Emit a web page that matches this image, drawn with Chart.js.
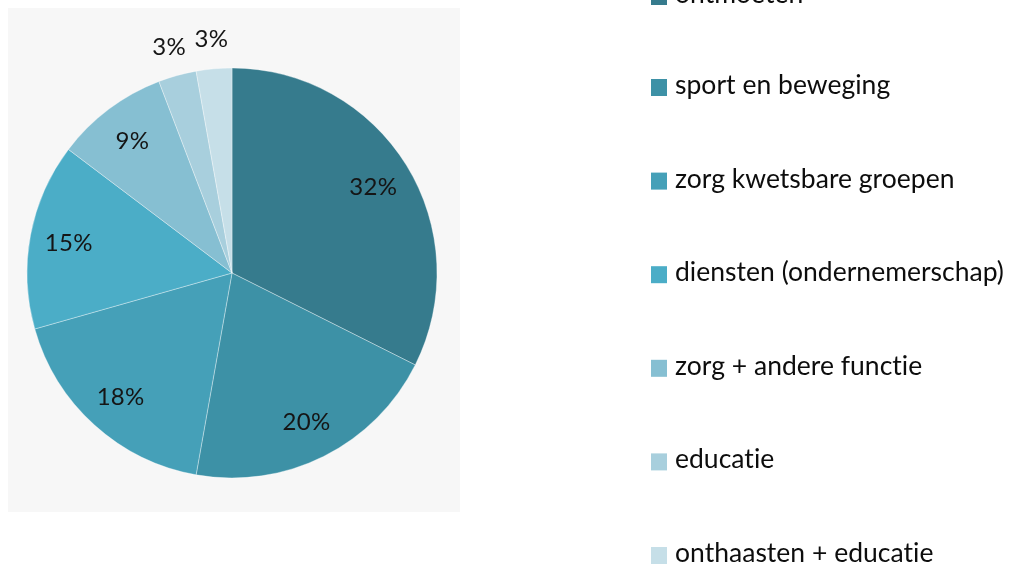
<!DOCTYPE html>
<html>
<head>
<meta charset="utf-8">
<script src="https://cdn.jsdelivr.net/npm/chart.js@4.4.1/dist/chart.umd.min.js"></script>
<style>
  html, body { margin: 0; padding: 0; background: #ffffff; }
  #wrap { position: relative; width: 1018px; height: 566px; overflow: hidden; }
  canvas { display: block; }
</style>
</head>
<body>
<div id="wrap"><canvas id="c" width="1018" height="566"></canvas></div>
<script>
// ---- data ----
const categories = [
  'ontmoeten',
  'sport en beweging',
  'zorg kwetsbare groepen',
  'diensten (ondernemerschap)',
  'zorg + andere functie',
  'educatie',
  'onthaasten + educatie'
];
const shares = [32.4, 20.4, 17.8, 14.7, 8.9, 3.0, 2.8];
const sliceColors = ['#367b8d', '#3d91a6', '#45a0b8', '#4badc7', '#86bfd2', '#a8cfdd', '#c6dfe8'];

// ---- plugins ----
const panelBg = {
  id: 'panelBg',
  beforeDraw(chart) {
    const ctx = chart.ctx;
    ctx.save();
    ctx.fillStyle = '#f7f7f7';
    ctx.fillRect(8, 8, 452, 504);
    ctx.restore();
  }
};

const sliceLabels = {
  id: 'sliceLabels',
  afterDatasetsDraw(chart) {
    const ctx = chart.ctx;
    const meta = chart.getDatasetMeta(0);
    const data = chart.data.datasets[0].data;
    const total = data.reduce((a, b) => a + b, 0);
    ctx.save();
    ctx.font = '24px Lato';
    if ('letterSpacing' in ctx) ctx.letterSpacing = '0.3px';
    ctx.fillStyle = '#151515';
    ctx.textAlign = 'center';
    ctx.textBaseline = 'middle';
    meta.data.forEach((arc, i) => {
      const p = arc.getProps(['x', 'y', 'startAngle', 'endAngle', 'outerRadius'], true);
      const pct = data[i] / total * 100;
      const mid = (p.startAngle + p.endAngle) / 2;
      const f = pct < 5 ? 1.15 : 0.81;
      const tx = p.x + Math.cos(mid) * p.outerRadius * f;
      const ty = p.y + Math.sin(mid) * p.outerRadius * f;
      ctx.fillText(Math.round(pct) + '%', tx, ty + 1);
    });
    ctx.restore();
  }
};

const sideLegend = {
  id: 'sideLegend',
  afterDraw(chart) {
    const ctx = chart.ctx;
    const labels = chart.data.labels;
    const colors = chart.data.datasets[0].backgroundColor;
    ctx.save();
    ctx.font = '26.5px Lato';
    if ('letterSpacing' in ctx) ctx.letterSpacing = '0.02px';
    ctx.textAlign = 'left';
    ctx.textBaseline = 'alphabetic';
    labels.forEach((lab, i) => {
      const cy = i === 0 ? -3.5 : -6.1 + i * 93.6;
      ctx.fillStyle = colors[i];
      ctx.fillRect(651, cy - 8.5, 16, 17);
      ctx.fillStyle = '#0d0d0d';
      ctx.fillText(lab, 675, cy + 6.5);
    });
    ctx.restore();
  }
};

new Chart(document.getElementById('c'), {
  type: 'pie',
  data: {
    labels: categories,
    datasets: [{
      data: shares,
      backgroundColor: sliceColors,
      borderColor: 'rgba(255,255,255,0.35)',
      borderWidth: 1
    }]
  },
  options: {
    responsive: false,
    animation: false,
    devicePixelRatio: 1,
    layout: { padding: { left: 26.5, right: 580.5, top: 67.5, bottom: 87.5 } },
    plugins: {
      legend: { display: false },
      tooltip: { enabled: false },
      title: { display: false }
    }
  },
  plugins: [panelBg, sliceLabels, sideLegend]
});
</script>
</body>
</html>
